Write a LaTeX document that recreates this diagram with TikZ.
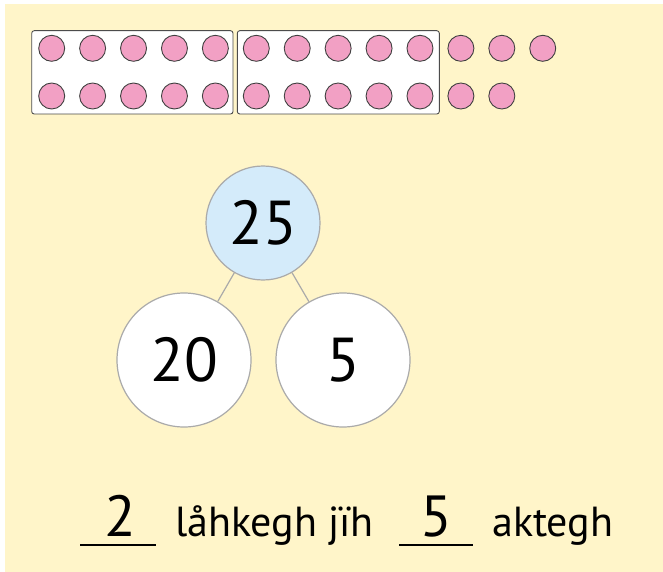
\documentclass[tikz,border=0pt]{standalone}
\usepackage{fontspec}
\setmainfont{PT Sans}
\definecolor{bgyellow}{HTML}{FFF5C9}
\definecolor{dotpink}{HTML}{F2A0C4}
\definecolor{bondblue}{HTML}{D4EBFA}
\definecolor{bondgray}{HTML}{AAAAAA}
\begin{document}
\begin{tikzpicture}[x=1pt,y=-1pt,
  dot/.style={circle, draw=black!75, line width=0.9pt, fill=dotpink, minimum size=26pt, inner sep=0pt},
  frame/.style={draw=black!70, line width=0.9pt, fill=white, rounded corners=2.5pt},
  bond/.style={circle, draw=bondgray, line width=1.2pt, inner sep=0pt, font=\fontsize{62}{62}\selectfont},
  link/.style={draw=bondgray, line width=1.2pt},
  answer/.style={font=\fontsize{58}{58}\selectfont, inner sep=0pt, anchor=base},
  words/.style={font=\fontsize{42}{42}\selectfont, inner sep=0pt, anchor=base west}]
\useasboundingbox (0,0) rectangle (663,572);
\fill[bgyellow] (5,4) rectangle (663,572);
\draw[frame] (31.7,30.7) rectangle (233,114);
\draw[frame] (237.3,30.7) rectangle (439.3,114);
\foreach \i in {0,...,12} {
  \node[dot] (t\i) at ({51.7+40.92*\i},48.3) {};
}
\foreach \i in {0,...,11} {
  \node[dot] (b\i) at ({51.7+40.92*\i},96) {};
}
\node[bond, fill=bondblue, minimum size=114pt] (top) at (263,223) {25};
\node[bond, fill=white, minimum size=134pt] (left) at (184,360) {20};
\node[bond, fill=white, minimum size=134pt] (right) at (343,360) {5};
\draw[link] (top) -- (left);
\draw[link] (top) -- (right);
\node[answer] (a1) at (120,536) {2};
\coordinate (u1a) at (80,545);
\coordinate (u1b) at (156,545);
\draw[line width=1.3pt] (u1a) -- (u1b);
\node[words] (w1) at (175,536) {låhkegh jïh};
\node[answer] (a2) at (436,536) {5};
\coordinate (u2a) at (399,545);
\coordinate (u2b) at (473,545);
\draw[line width=1.3pt] (u2a) -- (u2b);
\node[words] (w2) at (492,536) {aktegh};
\end{tikzpicture}
\end{document}
